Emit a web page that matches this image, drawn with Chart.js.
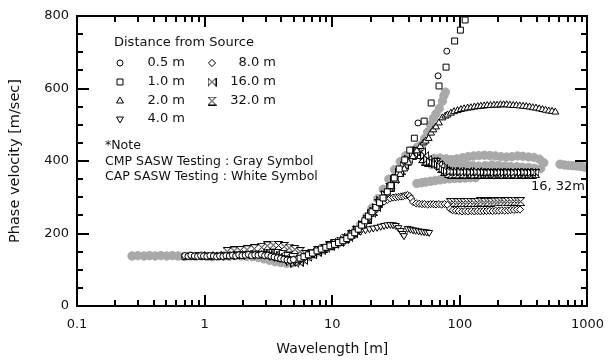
<!DOCTYPE html>
<html>
<head>
<meta charset="utf-8">
<script src="https://cdn.jsdelivr.net/npm/chart.js@4/dist/chart.umd.min.js"></script>
<style>
  html, body { margin: 0; padding: 0; background: #fff; }
  #chart { display: block; }
</style>
</head>
<body>
<canvas id="chart" width="615" height="361"></canvas>
<script>
// ==========================================
// Data
// ==========================================
const xTicks = [0.1, 1, 10, 100, 1000];
const yTicks = [0, 200, 400, 600, 800];
const legendTitle = "Distance from Source";
const distLabels = ["0.5 m", "1.0 m", "2.0 m", "4.0 m", "8.0 m", "16.0 m", "32.0 m"];
const noteLines = ["*Note", "CMP SASW Testing : Gray Symbol", "CAP SASW Testing : White Symbol"];
const bandLabel = "16, 32m";

// CMP SASW testing (gray symbols)
const cmpGray = [
  [0.27,138],[0.30,139],[0.335,138],[0.37,139],[0.41,138],[0.455,139],[0.505,138],[0.56,139],[0.62,138],[0.69,137],
  [0.77,138],[0.85,137],[0.94,138],[1.04,137],[1.15,136],[1.28,137],[1.42,138],[1.57,137],[1.74,139],[1.93,138],
  [2.14,137],[2.37,136],[2.63,134],[2.91,130],[3.22,126],[3.57,122],[3.95,120],[4.38,118],[4.85,119],[5.37,122],
  [5.95,128],[6.6,136],[7.3,144],[8.1,152],[9.0,159],[10.0,165],[11.1,172],[12.3,181],[13.6,192],[15.1,206],
  [16.7,224],[18.5,246],[20.5,270],[22.7,296],[25.1,322],[27.8,350],[30.8,376],[34.1,398],[37.8,415],[41.9,428],
  [46.4,438],[50,445],[53,462],[56,480],[59,500],[62,518],[65,530],[69,545],[73,565],[75,580],[77,590],
  [52,402],[57,404],[63,407],[70,408],[78,406],[86,404],[95,406],[105,409],[116,412],[128,414],[141,415],[156,416],
  [172,415],[190,414],[210,412],[232,411],[256,412],[283,414],[312,413],[345,411],[381,410],[421,405],[455,395],
  [60,390],[68,388],[78,386],[88,387],[100,389],[112,390],[125,388],[140,386],[158,387],[178,389],[200,388],
  [225,386],[250,385],[280,384],[310,383],[345,382],[385,380],[430,379],
  [610,391],[660,389],[710,388],[765,387],[825,386],[890,385],[950,383],
  [46,338],[50,340],[54,342],[59,344],[64,346],[70,348],[76,350],[83,351],[91,352],[100,352],[110,353],[121,354],[133,354]
];

// CAP SASW testing (white symbols), one list per distance
const cap05 = [
  [0.70,139],[0.74,137],[0.78,140],[0.83,138],[0.88,137],[0.93,139],[0.98,138],[1.04,137],[1.10,139],[1.17,138],
  [1.24,136],[1.31,138],[1.39,137],[1.47,139],[1.56,138],[1.65,140],[1.75,138],[1.85,141],[1.96,139],[2.08,140],
  [2.20,142],[2.33,139],[2.47,141],[2.62,140],[2.78,142],[2.95,139],[3.12,140],[3.31,137],[3.50,135],[3.71,133],
  [3.93,131],[4.17,129],[4.42,127],[4.68,126],[4.96,128],[47,505],[67.5,635],[79,703]
];
const cap1 = [
  [0.70,136],[0.76,138],[0.82,137],[0.89,139],[0.96,137],[1.03,138],[1.11,136],[1.19,138],[1.28,137],[1.38,139],
  [1.49,138],[1.60,140],[1.72,139],[1.85,141],[2.0,140],[2.15,142],[2.3,141],[2.5,143],[2.7,141],[2.9,142],
  [3.1,140],[3.35,138],[3.6,135],[3.9,132],[4.2,130],[4.5,128],[4.8,127],[5.2,129],[5.6,132],[6.0,136],
  [6.5,141],[7.0,146],[7.6,152],[8.2,157],[8.9,162],[9.6,166],[10.4,170],[11.2,175],[12.1,180],[13.0,186],
  [14,193],[15,202],[16,212],[17,223],[18,235],[19.2,248],[20.5,260],[22,272],[23.5,285],[25,298],
  [27,315],[28.8,332],[30.6,353],[33.5,378],[37,403],[40.5,430],[44,463],[52.5,510],[59.6,560],[68.7,607],
  [78,659],[91,731],[101,761],[110,789]
];
const cap2 = [
  [1.0,139],[1.08,137],[1.16,139],[1.25,138],[1.35,140],[1.46,137],[1.58,139],[1.70,141],[1.84,139],[1.98,142],
  [2.14,140],[2.31,143],[2.49,141],[2.69,140],[2.9,142],[3.13,139],[3.38,136],[3.65,133],[3.94,130],[4.25,128],
  [4.6,126],[4.97,127],[5.37,130],[5.8,134],[6.26,139],[6.76,144],[7.3,150],[7.88,155],[8.5,160],[9.2,165],
  [9.9,169],[10.7,173],[11.6,178],[12.5,184],[13.5,190],[14.6,198],[15.8,208],[17.0,220],[18.4,236],[19.9,252],
  [21.5,265],[23.2,280],[25,296],[27,312],[29.2,330],[31.5,347],[34,363],[36.7,378],[39.6,395],[42.8,412],
  [46,428],[49,440],[52,450],[54,455],[57,462],[59.5,477],[62,486],[65,494],[68.5,505],[73,519],
  [77,524],[80,527],[85,532],[90,536],[96,539],[102,542],[108,544],[115,546],[122,547],[130,549],
  [138,550],[146,551],[155,552],[164,553],[174,553],[185,554],[196,554],[208,555],[220,555],[233,555],
  [247,554],[262,553],[278,553],[295,552],[313,551],[332,550],[352,549],[373,547],[395,546],[419,544],
  [444,542],[470,540],[498,538],[528,537],[560,535]
];
const cap4 = [
  [1.4,137],[1.55,139],[1.7,138],[1.87,140],[2.05,139],[2.25,141],[2.47,140],[2.7,142],[2.95,140],[3.25,137],
  [3.55,134],[3.9,131],[4.3,128],[4.7,125],[5.15,127],[5.65,131],[6.2,137],[6.8,143],[7.45,149],[8.15,155],
  [8.95,161],[9.8,166],[10.7,171],[11.7,177],[12.8,184],[14.0,192],[15.3,200],[16.7,206],[18.2,210],[19.6,213],
  [21,215],[22.5,217],[24,220],[25.5,222],[27,224],[28.5,225],[30,224],[31.5,222],[33,216],[34.5,208],
  [35.5,200],[36.5,194],[39,214],[41,212],[43,210],[45,209],[47.5,207],[50,206],[52.5,205],[55,204],[57.5,203]
];
const cap8 = [
  [2.0,140],[2.2,142],[2.4,141],[2.65,143],[2.9,141],[3.2,139],[3.5,136],[3.85,133],[4.2,130],[4.6,127],
  [5.05,125],[5.5,128],[6.0,133],[6.6,139],[7.2,145],[7.9,152],[8.6,158],[9.4,163],[10.3,168],[11.3,174],
  [12.4,181],[13.5,189],[14.8,198],[16.2,210],[17.6,225],[19.2,242],[20.8,258],[22.5,274],[24,282],[25.5,288],
  [27,293],[28.5,297],[30,299],[31.5,300],[33,301],[34.5,302],[36,303],[37.5,305],[39,306],[40.5,303],
  [41.5,297],[43,287],[45.5,283],[48,282],[50.5,281],[53,281],[56,280],[59,281],[62,281],[65,280],
  [68.5,281],[72,280],[76,281],[80,279],[84,268],[88,264],[93,263],[98,262],[104,261],[110,262],
  [116,261],[123,262],[130,261],[137,262],[145,261],[153,262],[162,262],[171,263],[181,262],[191,263],
  [202,263],[213,264],[225,263],[238,264],[251,265],[265,265],[280,266],[296,266]
];
const cap16 = [
  [3.0,142],[3.3,146],[3.6,143],[3.95,140],[4.3,133],[4.7,122],[5.1,118],[5.5,120],[5.95,126],[6.45,134],
  [7.0,141],[7.6,148],[8.2,154],[8.9,160],[9.7,165],[10.5,170],[11.4,176],[12.4,183],[13.4,190],[14.6,199],
  [15.9,210],[17.3,224],[18.8,240],[20.4,256],[22.2,272],[24.1,290],[26.2,308],[28.5,328],[31,348],[33.7,368],
  [36.6,388],[39.8,405],[43.3,420],[47,428],[50,425],[53,415],[56,405],[59,398],[62,395],[65,392],
  [68,390],[71,385],[74,378],[77,374],[80,372],[85,371],[90,370],[96,370],[102,370],[108,369],
  [115,370],[122,369],[130,369],[138,370],[147,369],[156,369],[166,368],[176,369],[187,368],[199,368],
  [211,369],[224,368],[238,369],[253,368],[269,368],[286,369],[304,368],[323,369],[343,368],[364,368],[387,369]
];
const cap32 = [
  [1.5,150],[1.7,152],[1.9,153],[2.15,155],[2.45,158],[2.8,162],[3.1,166],[3.45,168],[3.8,167],[4.2,164],
  [4.6,160],[5.1,156],[5.6,150],[6.2,142],[6.9,146],[7.7,153],[8.6,160],[9.5,166],[10.5,172],[11.6,179],
  [12.8,187],[14.1,196],[15.6,207],[17.2,222],[19,240],[21,262],[23.2,282],[25.6,305],[28.3,328],[31.3,352],
  [34.6,375],[38.2,398],[42.2,415],[45,425],[48,418],[51,407],[54,400],[57,397],[60,399],[63,400],
  [66,396],[69,388],[72,380],[76,372],[81,366],[86,364],[92,365],[98,364],[105,365],[112,364],
  [120,365],[128,364],[137,365],[146,364],[156,365],[167,364],[178,365],[190,364],[203,365],[217,364],
  [232,365],[248,364],[265,365],[283,364],[302,365],[323,364],[345,365],[369,364],[394,365],
  [84,285],[89,286],[95,285],[101,286],[107,285],[114,286],[121,286],[129,285],[137,286],[146,287],
  [155,286],[165,287],[175,286],[186,287],[198,287],[210,288],[223,287],[237,288],[252,288],[268,289],[285,288],[300,288]
];

// ==========================================
// Custom symbols: hourglass and bowtie
// ==========================================
function makeGlyph(vertical) {
  const c = document.createElement("canvas");
  c.width = 9; c.height = 9;
  const g = c.getContext("2d");
  g.strokeStyle = "#000";
  g.fillStyle = "#fff";
  g.lineWidth = 1;
  g.beginPath();
  if (vertical) { // hourglass
    g.moveTo(0.5, 0.5); g.lineTo(8.5, 0.5); g.lineTo(0.5, 8.5); g.lineTo(8.5, 8.5); g.closePath();
  } else {        // bowtie
    g.moveTo(0.5, 0.5); g.lineTo(0.5, 8.5); g.lineTo(8.5, 0.5); g.lineTo(8.5, 8.5); g.closePath();
  }
  g.fill();
  g.stroke();
  return c;
}
const hourglass = makeGlyph(true);
const bowtie = makeGlyph(false);

const toXY = arr => arr.map(p => ({ x: p[0], y: p[1] }));

function capSet(label, data, style, radius, rotation) {
  return {
    label: label,
    data: toXY(data),
    pointStyle: style,
    pointRadius: radius,
    pointRotation: rotation || 0,
    backgroundColor: "#fff",
    borderColor: "#000",
    borderWidth: 1,
    showLine: false,
    order: 1
  };
}

const datasets = [
  capSet(distLabels[0], cap05, "circle", 3),
  capSet(distLabels[1], cap1, "rect", 4.2),
  capSet(distLabels[2], cap2, "triangle", 4),
  capSet(distLabels[3], cap4, "triangle", 4, 180),
  capSet(distLabels[4], cap8, "rectRot", 3.6),
  capSet(distLabels[5], cap16, bowtie, 4.5),
  capSet(distLabels[6], cap32, hourglass, 4.5),
  {
    label: "CMP",
    data: toXY(cmpGray),
    pointStyle: "circle",
    pointRadius: 4.2,
    backgroundColor: "#a9a9a9",
    borderColor: "#a9a9a9",
    borderWidth: 1,
    showLine: false,
    order: 5
  }
];

const FONT = '"DejaVu Sans", sans-serif';

// ==========================================
// Frame with inward ticks (filled rects), legend box, notes
// ==========================================
function drawFrame(chart) {
  const ctx = chart.ctx;
  const a = chart.chartArea;
  const x = chart.scales.x;
  const y = chart.scales.y;
  const L = Math.round(a.left), R = Math.round(a.right);
  const T = Math.round(a.top), B = Math.round(a.bottom);
  ctx.save();
  ctx.setTransform(1, 0, 0, 1, 0, 0);
  ctx.globalAlpha = 1;
  ctx.globalCompositeOperation = "source-over";
  ctx.fillStyle = "#000";
  // box
  ctx.fillRect(L - 1, T - 1, R - L + 2, 2);
  ctx.fillRect(L - 1, B - 1, R - L + 2, 2);
  ctx.fillRect(L - 1, T - 1, 2, B - T + 2);
  ctx.fillRect(R - 1, T - 1, 2, B - T + 2);
  // x ticks, bottom and top
  for (let d = 0; d < xTicks.length; d++) {
    for (let m = 1; m < 10; m++) {
      if (d === xTicks.length - 1 && m > 1) break;
      const px = Math.round(x.getPixelForValue(xTicks[d] * m));
      const len = m === 1 ? 11 : 6;
      ctx.fillRect(px - 1, B - len, 2, len);
      ctx.fillRect(px - 1, T, 2, len);
    }
  }
  // y ticks every 50, left and right
  for (let v = yTicks[0]; v <= yTicks[yTicks.length - 1]; v += 50) {
    const py = Math.round(y.getPixelForValue(v));
    const len = v % 200 === 0 ? 12 : 6;
    ctx.fillRect(L, py - 1, len, 2);
    ctx.fillRect(R - len, py - 1, len, 2);
  }
  ctx.restore();
}

function drawLegend(chart) {
  const ctx = chart.ctx;
  const sets = chart.data.datasets;
  ctx.save();
  ctx.fillStyle = "#111";
  ctx.font = "13px " + FONT;
  ctx.textBaseline = "middle";
  ctx.textAlign = "left";
  ctx.fillText(legendTitle, 114, 43);

  const rows = [63, 82, 101, 119];
  for (let i = 0; i < distLabels.length; i++) {
    const col = i < 4 ? 0 : 1;
    const row = col === 0 ? i : i - 4;
    const sx = col === 0 ? 120 : 212;
    const tx = col === 0 ? 185 : 276;
    const ds = sets[i];
    ctx.fillStyle = "#fff";
    ctx.strokeStyle = "#000";
    ctx.lineWidth = 1;
    if (Chart.helpers && Chart.helpers.drawPoint) {
      Chart.helpers.drawPoint(ctx, {
        pointStyle: ds.pointStyle,
        radius: ds.pointRadius,
        rotation: ds.pointRotation,
        borderWidth: 1
      }, sx, rows[row]);
    }
    ctx.fillStyle = "#111";
    ctx.textAlign = "right";
    ctx.fillText(distLabels[i], tx, rows[row]);
  }

  ctx.textAlign = "left";
  ctx.font = "12.5px " + FONT;
  ctx.fillText(noteLines[0], 105, 146);
  ctx.fillText(noteLines[1], 105, 162);
  ctx.fillText(noteLines[2], 105, 177);

  ctx.font = "13px " + FONT;
  ctx.textAlign = "right";
  ctx.fillText(bandLabel, 585, 187);
  ctx.restore();
}

const decorations = {
  id: "decorations",
  afterDraw(chart) {
    drawLegend(chart);
    drawFrame(chart);
  }
};

// ==========================================
// Chart
// ==========================================
const chart = new Chart(document.getElementById("chart"), {
  type: "scatter",
  data: { datasets: datasets },
  options: {
    responsive: false,
    animation: false,
    events: [],
    layout: { padding: { top: 16, right: 20, left: 0, bottom: 0 } },
    plugins: { legend: { display: false }, tooltip: { enabled: false } },
    scales: {
      x: {
        type: "logarithmic",
        min: xTicks[0],
        max: xTicks[xTicks.length - 1],
        grid: { display: false, drawTicks: false },
        border: { display: false },
        afterBuildTicks: scale => { scale.ticks = xTicks.map(v => ({ value: v })); },
        afterFit: scale => { scale.height = 55; },
        ticks: {
          autoSkip: false,
          maxRotation: 0,
          padding: 11,
          color: "#111",
          font: { family: FONT, size: 13 },
          callback: v => String(v)
        },
        title: {
          display: true,
          text: "Wavelength [m]",
          color: "#111",
          font: { family: FONT, size: 14 },
          padding: { top: 0, bottom: 3 }
        }
      },
      y: {
        min: yTicks[0],
        max: yTicks[yTicks.length - 1],
        grid: { display: false, drawTicks: false },
        border: { display: false },
        afterBuildTicks: scale => { scale.ticks = yTicks.map(v => ({ value: v })); },
        afterFit: scale => { scale.width = 77; },
        ticks: {
          padding: 8,
          color: "#111",
          font: { family: FONT, size: 13 }
        },
        title: {
          display: true,
          text: "Phase velocity [m/sec]",
          color: "#111",
          font: { family: FONT, size: 14.5 },
          padding: { top: 7, bottom: 0 }
        }
      }
    }
  },
  plugins: [decorations]
});
</script>
</body>
</html>
